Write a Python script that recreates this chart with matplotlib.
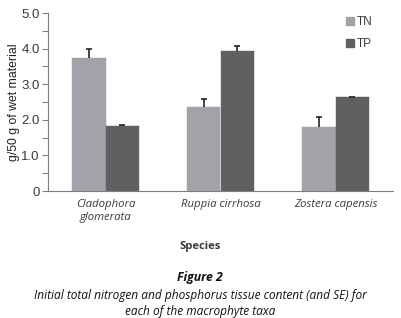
import matplotlib
matplotlib.use("Agg")
import matplotlib.pyplot as plt
import numpy as np
from matplotlib.patches import Patch

species = ["Cladophora\nglomerata", "Ruppia cirrhosa", "Zostera capensis"]
tn = [3.73, 2.37, 1.79]
tn_se = [0.27, 0.21, 0.28]
tp = [1.83, 3.93, 2.63]
tp_se = [0.03, 0.13, 0.02]
yticks = [0, 1.0, 2.0, 3.0, 4.0, 5.0]
yticklabels = ["0", "1.0", "2.0", "3.0", "4.0", "5.0"]

c_tn = "#a2a3a8"
c_tp = "#5f6062"
axis_c = "#7f7f7f"
text_c = "#3a3a3a"

fig = plt.figure(figsize=(4.01, 3.18), dpi=100)
ax = fig.add_axes([48/401, 1-191/318, (393-48)/401, (191-13)/318])

x = np.arange(len(species))
w = 0.29
ax.bar(x - w/2, tn, w, color=c_tn, edgecolor=c_tn, linewidth=0.3)
ax.bar(x + w/2, tp, w, color=c_tp, edgecolor=c_tp, linewidth=0.3)
cap = 0.025
for xs, vals, ses in [(x - w/2, tn, tn_se), (x + w/2, tp, tp_se)]:
    tops = np.array(vals) + np.array(ses)
    ax.vlines(xs, vals, tops, color="#222222", linewidth=1.2)
    ax.hlines(tops, xs - cap, xs + cap, color="#222222", linewidth=1.2)

ax.set_xlim(-0.5, 2.5)
ax.set_ylim(0, 5.0)
ax.set_yticks(yticks)
ax.set_yticklabels(yticklabels, fontfamily="Liberation Sans", fontsize=9.5, color=text_c)
ax.set_yticks(np.arange(0.5, 5.0, 1.0), minor=True)
ax.tick_params(axis="y", which="both", length=4, color=axis_c, width=0.8, pad=2)
ax.set_xticks(x)
ax.set_xticklabels(species, fontfamily="Open Sans", fontstyle="italic", fontsize=8.2,
                   color=text_c, linespacing=1.25)
ax.tick_params(axis="x", length=0, pad=6)
for s in ["top", "right"]:
    ax.spines[s].set_visible(False)
for s in ["left", "bottom"]:
    ax.spines[s].set_color(axis_c)
    ax.spines[s].set_linewidth(0.8)

ax.set_ylabel("g/50 g of wet material", fontfamily="Liberation Sans", fontsize=8.8,
              color="#222222")
ax.yaxis.set_label_coords(-28/345, 0.5)

ax.legend(handles=[Patch(color=c_tn, label="TN"), Patch(color=c_tp, label="TP")],
          loc="upper left", bbox_to_anchor=(293/345, 1.01), frameon=False,
          prop={"family": "Liberation Sans", "size": 8.5}, labelcolor=text_c,
          handlelength=0.7, handleheight=0.7, handletextpad=0.2, labelspacing=0.85,
          borderaxespad=0.0)

fig.text(200/401, 1-247/318, "Species", ha="center", va="center",
         fontfamily="Open Sans", fontweight="bold", fontsize=8.1, color=text_c)
fig.text(200/401, 1-278/318, "Figure 2", ha="center", va="center",
         fontfamily="Open Sans", fontweight="bold", fontstyle="italic", fontsize=8.8, color="#111111")
fig.text(200/401, 1-295/318, "Initial total nitrogen and phosphorus tissue content (and SE) for",
         ha="center", va="center", fontfamily="Open Sans", fontstyle="italic", fontsize=8.6, color="#111111")
fig.text(200/401, 1-311/318, "each of the macrophyte taxa",
         ha="center", va="center", fontfamily="Open Sans", fontstyle="italic", fontsize=8.6, color="#111111")

fig.savefig("out.png", dpi=100)
